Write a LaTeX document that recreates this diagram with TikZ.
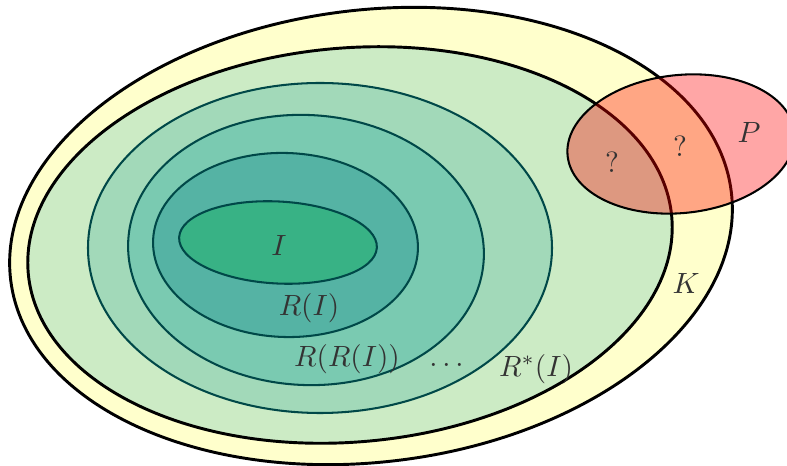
\documentclass[tikz,border=0pt]{standalone}
\usepackage{amsmath,amssymb}
\usepackage{xcolor}
\usepackage{tikz}
\usetikzlibrary{positioning}
\definecolor{ivYellow}{HTML}{FFFFCC}
\definecolor{ivK}{HTML}{CCEBC5}
\definecolor{ivRstar}{HTML}{A2D9B9}
\definecolor{ivRR}{HTML}{7ACAB1}
\definecolor{ivR}{HTML}{55B3A4}
\definecolor{ivI}{HTML}{38B285}
\definecolor{ivEdge}{HTML}{004848}
\definecolor{ivInk}{HTML}{333333}

\begin{document}
\begin{tikzpicture}[
    x=0.012cm, y=0.012cm,
    outerset/.style={draw=black, line width=1pt},
    innerset/.style={draw=ivEdge, line width=0.7pt},
    setlabel/.style={text=ivInk, inner sep=1pt},
]
\useasboundingbox (0,0) rectangle (787,466);
\clip (0,0) rectangle (787,466);

% ---- Nested sets ----
\filldraw[fill=ivYellow, outerset] (371,230) ellipse [x radius=363, y radius=226, rotate=7];
\filldraw[fill=ivK, outerset]      (350,221) ellipse [x radius=323, y radius=197, rotate=5];
\filldraw[fill=ivRstar, innerset]  (320,218) ellipse [x radius=232, y radius=165];
\filldraw[fill=ivRR, innerset]     (306,216) ellipse [x radius=178, y radius=135, rotate=-3];
\filldraw[fill=ivR, innerset]      (285.5,221) ellipse [x radius=132.5, y radius=92, rotate=-2];
\filldraw[fill=ivI, innerset]      (278,223.5) ellipse [x radius=99, y radius=41, rotate=-3];

% ---- Property P (on top, see-through) ----
\draw[fill=red, fill opacity=0.35, draw=black, line width=0.7pt]
    (681,322) ellipse [x radius=114, y radius=69, rotate=6];

% ---- Labels ----
\node[setlabel] (lI)    at (279,221) {$I$};
\node[setlabel] (lR)    at (309,158) {$R(I)$};
\node[setlabel] (lRR)   at (347,107) {$R(R(I))$};
\node[setlabel] (ldots) at (449,101) {$\dots$};
\node[setlabel] (lRs)   at (536,97)  {$R^{*}(I)$};
\node[setlabel] (lK)    at (686,183) {$K$};
\node[setlabel] (lP)    at (749,334) {$P$};
\node[setlabel] (lq1)   at (612,304) {$?$};
\node[setlabel] (lq2)   at (680,320) {$?$};

\end{tikzpicture}
\end{document}
